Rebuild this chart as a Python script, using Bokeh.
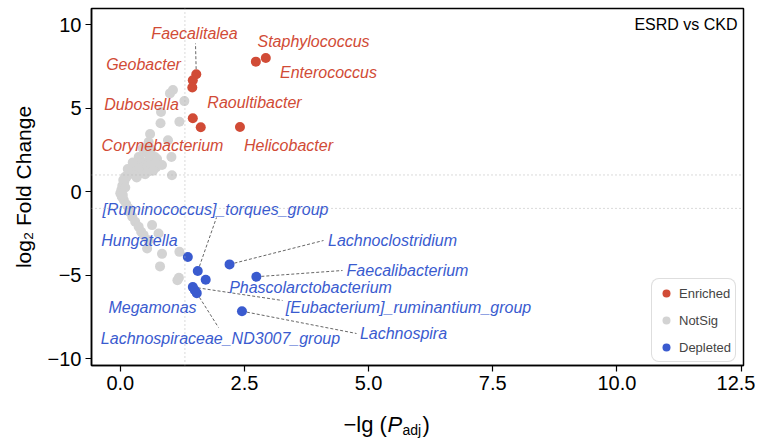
import numpy as np
from bokeh.plotting import figure
from bokeh.layouts import column
from bokeh.models import ColumnDataSource, Span, Label, Legend, LegendItem, FixedTicker, Range1d
from bokeh.core.properties import value
from bokeh.embed import file_html
from bokeh.resources import INLINE

# ---------------- data ----------------
enriched_names = ["Faecalitalea", "Staphylococcus", "Enterococcus", "Geobacter",
                  "Dubosiella", "Raoultibacter", "Corynebacterium", "Helicobacter"]
enriched_x = [1.53, 2.73, 2.93, 1.46, 1.45, 1.46, 1.62, 2.41]
enriched_y = [7.03, 7.78, 8.00, 6.66, 6.23, 4.39, 3.85, 3.87]

depleted_names = ["[Ruminococcus]_torques_group", "Hungatella", "Lachnoclostridium",
                  "Faecalibacterium", "Phascolarctobacterium", "[Eubacterium]_ruminantium_group",
                  "Megamonas", "Lachnospiraceae_ND3007_group", "Lachnospira"]
depleted_x = [1.56, 1.36, 2.20, 2.74, 1.72, 1.46, 1.50, 1.54, 2.45]
depleted_y = [-4.75, -3.91, -4.35, -5.09, -5.27, -5.71, -5.90, -6.07, -7.15]

notsig_x = [1.06, 1.00, 1.29, 0.82, 0.81, 1.19, 0.60, 0.96, 0.57, 0.50, 0.37, 0.70, 1.03,
            0.30, 0.24, 1.04, 0.45, 0.55, 0.62, 0.40, 0.48, 0.58, 0.66, 0.35, 0.45, 0.55,
            0.72, 0.28, 0.38, 0.18, 0.12, 0.08, 0.04, 0.02, 0.00, 0.03, 0.07, 0.12, 0.17,
            0.20, 0.24, 0.30, 0.37, 0.42, 0.47, 0.57, 0.64, 0.77, 0.54, 0.84, 1.19, 0.80,
            1.18, 1.15, 0.10, 0.30, 0.45, 0.55, 0.06, 0.15, 0.60, 0.74, 0.84, 0.25, 0.50,
            0.66, 0.33, 0.10, 0.05]
notsig_y = [6.08, 5.88, 5.42, 4.77, 4.09, 4.18, 3.45, 3.08, 2.97, 2.37, 2.07, 2.07, 2.07,
            1.68, 1.28, 0.98, 2.60, 2.30, 2.55, 1.90, 1.75, 1.85, 1.70, 1.50, 1.45, 1.50,
            1.45, 1.15, 1.20, 1.05, 0.85, 0.60, 0.35, 0.10, -0.10, -0.30, -0.50, -0.75, -1.00,
            -1.25, -1.50, -1.80, -2.10, -2.40, -2.60, -2.90, -2.00, -2.50, -3.40, -3.72, -3.60,
            -4.47, -5.15, -5.30, 0.90, 1.00, 1.10, 1.20, 0.70, 1.35, 2.15, 1.95, 1.60, 1.75,
            1.05, 1.25, 0.85, 0.25, -0.20]

x_ticks = [0, 2.5, 5, 7.5, 10, 12.5]
x_tick_labels = ["0.0", "2.5", "5.0", "7.5", "10.0", "12.5"]
y_ticks = [-10, -5, 0, 5, 10]
y_tick_labels = ["\u221210", "\u22125", "0", "5", "10"]
fc_threshold = 1.0
p_threshold = 0.05
title_text = "ESRD vs CKD"

# ---------------- layout / style ----------------
RED = "#D14B36"
BLUE = "#3A5BCF"
GREY = "#D3D3D3"
FONT = "Liberation Sans"

X0, X1 = -0.58, 12.55
Y0, Y1 = -10.4, 10.96
FW, FH = 652, 357
BL, BR, BT, BB = 91, 12, 8, 35
PH2 = 42  # height of the strip carrying the x-axis title

def px2x(px):   # page pixel -> data x
    return X0 + (px - BL) * (X1 - X0) / FW

def py2y(py):   # page pixel -> data y
    return Y1 - (py - BT) * (Y1 - Y0) / FH

# label placements (page pixels) and optional leader end points
enriched_label_pos = {
    "Faecalitalea": (194, 33, (195, 43)),
    "Staphylococcus": (313, 41, None),
    "Enterococcus": (328, 72, None),
    "Geobacter": (143, 64, None),
    "Dubosiella": (141, 104, None),
    "Raoultibacter": (254, 102, None),
    "Corynebacterium": (162, 145, None),
    "Helicobacter": (288, 145, None),
}
depleted_label_pos = {
    "[Ruminococcus]_torques_group": (215, 209, (216, 217)),
    "Hungatella": (139, 240, None),
    "Lachnoclostridium": (392, 240, (323, 240)),
    "Faecalibacterium": (407, 270, (342, 270)),
    "Phascolarctobacterium": (310, 287, None),
    "[Eubacterium]_ruminantium_group": (408, 307, (282, 300)),
    "Megamonas": (152, 307, None),
    "Lachnospiraceae_ND3007_group": (220, 338, (218, 327)),
    "Lachnospira": (403, 333, (356, 333)),
}

p = figure(frame_width=FW, frame_height=FH, output_backend="svg", toolbar_location=None,
           x_range=Range1d(X0, X1), y_range=Range1d(Y0, Y1),
           min_border_left=BL, min_border_right=BR, min_border_top=BT, min_border_bottom=BB,
           background_fill_color="white", border_fill_color="white")
p.grid.visible = False
p.outline_line_color = "black"
p.outline_line_width = 1.5

for ax in (p.xaxis[0], p.yaxis[0]):
    ax.major_tick_in = 0
    ax.major_tick_out = 6
    ax.minor_tick_line_color = None
    ax.axis_line_color = "black"
    ax.axis_line_width = 1.5
    ax.major_tick_line_width = 1.2
    ax.major_label_text_font = FONT
    ax.major_label_text_font_size = "20px"
    ax.major_label_text_color = "black"
    ax.major_label_standoff = 4

p.xaxis.ticker = FixedTicker(ticks=x_ticks)
p.xaxis.major_label_overrides = {t: l for t, l in zip(x_ticks, x_tick_labels)}
p.yaxis.ticker = FixedTicker(ticks=y_ticks)
p.yaxis.major_label_overrides = {t: l for t, l in zip(y_ticks, y_tick_labels)}

p.yaxis.axis_label = "log\u2082 Fold Change"
p.yaxis.axis_label_text_font = FONT
p.yaxis.axis_label_text_font_size = "21px"
p.yaxis.axis_label_text_font_style = "normal"
p.yaxis.axis_label_text_color = "black"
p.yaxis.axis_label_standoff = 10

# threshold lines
thr_x = -np.log10(p_threshold)
for loc, dim in ((thr_x, "height"), (fc_threshold, "width"), (-fc_threshold, "width")):
    p.add_layout(Span(location=loc, dimension=dim, line_color="#B5B5B5",
                      line_dash="1 3", line_width=1))

# points
r_ns = p.scatter(notsig_x, notsig_y, size=10, color=GREY, line_color=None)

# leaders
lx0, ly0, lx1, ly1 = [], [], [], []
for names, xs, ys, pos in ((enriched_names, enriched_x, enriched_y, enriched_label_pos),
                           (depleted_names, depleted_x, depleted_y, depleted_label_pos)):
    for n, x, y in zip(names, xs, ys):
        end = pos[n][2]
        if end is not None:
            lx0.append(x); ly0.append(y)
            lx1.append(px2x(end[0])); ly1.append(py2y(end[1]))
p.segment(lx0, ly0, lx1, ly1, line_color="#555555", line_width=0.9, line_dash="3 2")

r_en = p.scatter(enriched_x, enriched_y, size=10, color=RED, line_color=None)
r_de = p.scatter(depleted_x, depleted_y, size=10, color=BLUE, line_color=None)

# labels
for names, pos, col in ((enriched_names, enriched_label_pos, RED),
                        (depleted_names, depleted_label_pos, BLUE)):
    src = ColumnDataSource(dict(x=[px2x(pos[n][0]) for n in names],
                                y=[py2y(pos[n][1]) for n in names],
                                t=names))
    p.text(x="x", y="y", text="t", source=src, text_font=value(FONT),
           text_font_style="italic", text_font_size="16px", text_color=col,
           text_align="center", text_baseline="middle")

# title
p.add_layout(Label(x=px2x(737), y=py2y(24), text=title_text, text_font=FONT,
                   text_font_size="16px", text_color="black",
                   text_align="right", text_baseline="middle"))

# legend
legend = Legend(items=[LegendItem(label="Enriched", renderers=[r_en]),
                       LegendItem(label="NotSig", renderers=[r_ns]),
                       LegendItem(label="Depleted", renderers=[r_de])],
                location=(560, 3), margin=0, padding=4, spacing=7,
                glyph_width=20, glyph_height=20, label_height=20, label_standoff=3,
                label_text_font=FONT, label_text_font_size="13px",
                border_line_color="#BDBDBD", border_line_width=1.2,
                background_fill_color="white", background_fill_alpha=1)
try:
    legend.border_radius = 8
except Exception:
    pass
p.add_layout(legend)

# strip below for the x-axis title  "-lg (P_adj)"
top2 = BT + FH + BB  # page y of the strip's top
p2 = figure(frame_width=FW, frame_height=PH2, output_backend="svg", toolbar_location=None,
            x_range=Range1d(0, FW), y_range=Range1d(0, PH2),
            min_border_left=BL, min_border_right=BR, min_border_top=0, min_border_bottom=0,
            x_axis_type=None, y_axis_type=None, outline_line_color=None,
            background_fill_color="white", border_fill_color="white")
p2.grid.visible = False

def sx(px):
    return px - BL

def sy(py):
    return PH2 - (py - top2)

xl_start = 343
base = 424
pieces = [("\u2212lg (", 0, 0, "22px", "normal"),
          ("P", 44, 0, "22px", "italic"),
          ("adj", 59, 5, "14px", "normal"),
          (")", 79, 0, "22px", "normal")]
for txt, dx, dy, fs, st in pieces:
    p2.add_layout(Label(x=sx(xl_start + dx), y=sy(base + dy), text=txt, text_font=FONT,
                        text_font_size=fs, text_font_style=st, text_color="black",
                        text_align="left", text_baseline="alphabetic"))

layout = column(p, p2, spacing=0)
open("out.html", "w").write(file_html(layout, INLINE))
